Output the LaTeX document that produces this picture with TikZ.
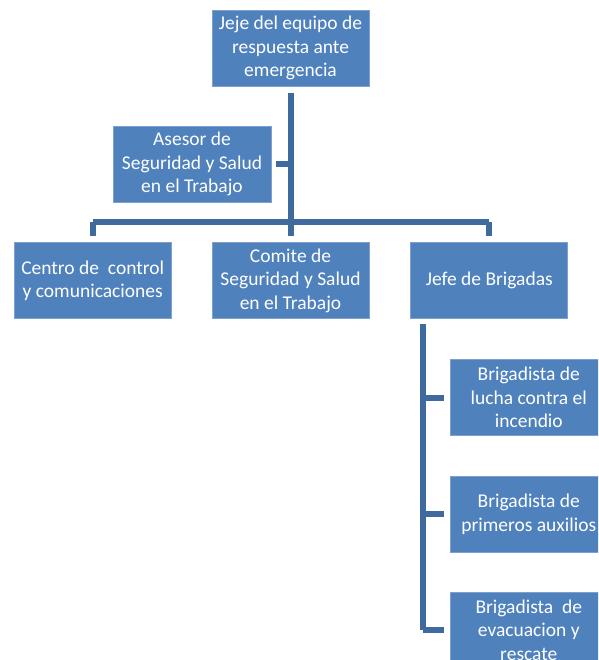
\documentclass[tikz,border=0pt]{standalone}
\usepackage{fontspec}
\setmainfont{Carlito}
\usetikzlibrary{positioning}

\definecolor{cajaazul}{HTML}{4F81BD}
\definecolor{bordeazul}{HTML}{7DA0CE}
\definecolor{lineaazul}{HTML}{3F6A9E}

\tikzset{
	puesto/.style={rectangle, fill=cajaazul, draw=bordeazul, line width=0.8pt,
		minimum width=157pt, minimum height=76pt, inner sep=0pt, align=center,
		text=white, font=\fontsize{19.5}{23.5}\selectfont},
	enlace/.style={draw=lineaazul, line width=6pt},
}

\begin{document}
\begin{tikzpicture}[x=1pt,y=1pt]
	\useasboundingbox (0,0) rectangle (598,-660);
	\clip (0,0) rectangle (598,-660);
	% Define nodes
	\node[puesto] (jefe) at (290.5,-48) {Jeje del equipo de\\respuesta ante\\emergencia};
	\node[puesto, minimum width=158pt] (asesor) at (192,-164) {Asesor de\\Seguridad y Salud\\en el Trabajo};
	\node[puesto, below=156pt of jefe] (comite) {Comite de\\Seguridad y Salud\\en el Trabajo};
	\node[puesto, left=40pt of comite] (centro) {Centro de\ \ control\\y comunicaciones};
	\node[puesto, right=41pt of comite] (brigadas) {Jefe de Brigadas};
	\node[puesto, below=40pt of brigadas, xshift=39.5pt] (incendio) {Brigadista de\\lucha contra el\\incendio};
	\node[puesto, below=40pt of incendio] (auxilios) {Brigadista de\\primeros auxilios};
	\node[puesto, below=39pt of auxilios] (rescate) {Brigadista\ \ de\\evacuacion y\\rescate};

	% Connect the nodes
	\coordinate (barra) at (290.5,-222);
	\coordinate (tronco) at (423,-318);
	\path[enlace] ([yshift=-7pt]jefe.south) -- ([yshift=6pt]comite.north);
	\path[enlace] ([xshift=5pt]asesor.east) -- (asesor.east -| barra);
	\path[enlace] (barra -| centro.north) -- (barra -| brigadas.north);
	\path[enlace] (barra -| centro.north) -- ([yshift=6pt]centro.north);
	\path[enlace] (barra -| brigadas.north) -- ([yshift=6pt]brigadas.north);
	\path[enlace] ([yshift=-6pt]tronco) -- (tronco |- rescate.west);
	\foreach \b in {incendio,auxilios,rescate}
		\path[enlace] (tronco |- \b.west) -- ([xshift=-6pt]\b.west);
\end{tikzpicture}
\end{document}
